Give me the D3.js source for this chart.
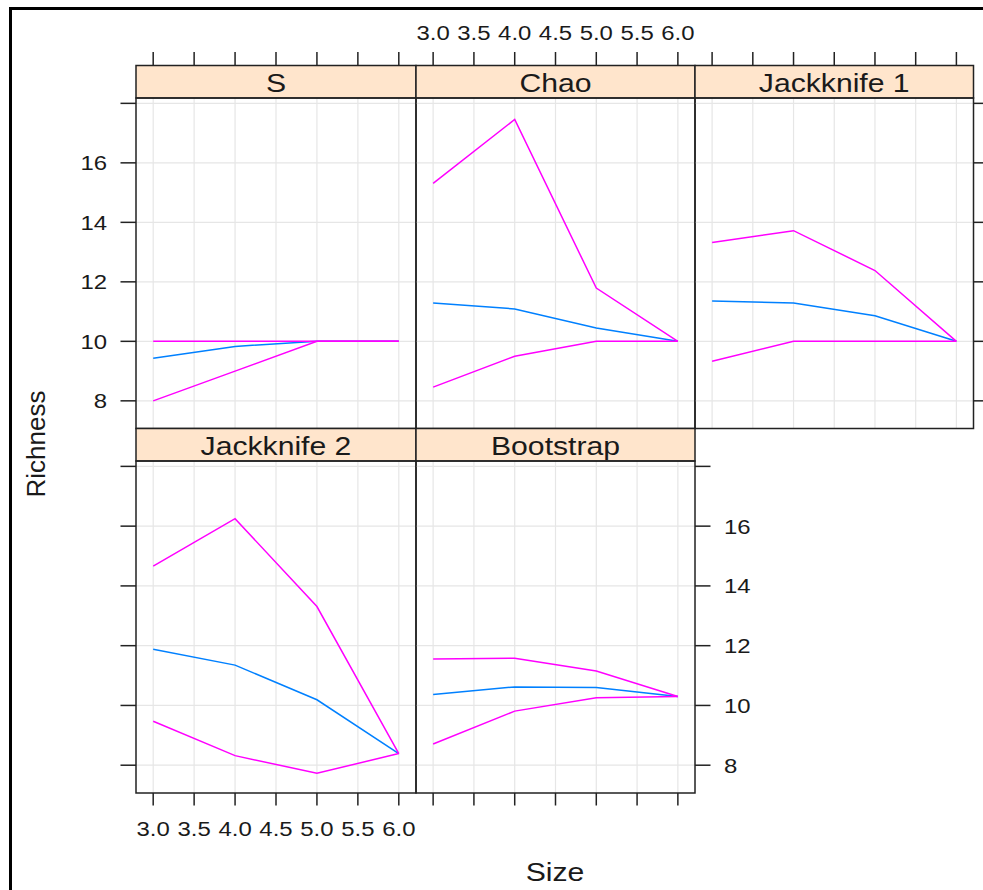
<!DOCTYPE html>
<html>
<head>
<meta charset="utf-8">
<script src="https://cdn.jsdelivr.net/npm/d3@7"></script>
<style>
  html, body { margin: 0; padding: 0; background: #ffffff; }
  svg { display: block; }
  text { font-family: "Liberation Sans", Arial, sans-serif; fill: #1a1a1a; }
</style>
</head>
<body>
<svg id="chart" width="983" height="890"></svg>
<script>
// Sample sizes on the x axis
const sizes = [3, 4, 5, 6];

// Estimator panels, in reading order (top-left to bottom-right)
const estimators = ["S", "Chao", "Jackknife 1", "Jackknife 2", "Bootstrap"];

// Mean richness per estimator
const meanS    = [9.43, 9.83, 10.0, 10.0];
const meanChao = [11.29, 11.09, 10.45, 10.0];
const meanJack1 = [11.36, 11.29, 10.86, 10.0];
const meanJack2 = [11.88, 11.35, 10.19, 8.39];
const meanBoot = [10.37, 10.62, 10.60, 10.30];

// Lower bounds
const lowerS    = [8.0, 9.0, 10.0, 10.0];
const lowerChao = [8.46, 9.50, 10.0, 10.0];
const lowerJack1 = [9.33, 10.0, 10.0, 10.0];
const lowerJack2 = [9.47, 8.32, 7.73, 8.39];
const lowerBoot = [8.71, 9.81, 10.26, 10.30];

// Upper bounds
const upperS    = [10.0, 10.0, 10.0, 10.0];
const upperChao = [15.31, 17.46, 11.79, 10.0];
const upperJack1 = [13.32, 13.72, 12.38, 10.0];
const upperJack2 = [14.66, 16.25, 13.31, 8.39];
const upperBoot = [11.55, 11.58, 11.15, 10.30];

// Axis ticks
const xTicks = [3.0, 3.5, 4.0, 4.5, 5.0, 5.5, 6.0];
const yTicks = [8, 10, 12, 14, 16, 18];
const yLabelled = [8, 10, 12, 14, 16];

const meanVals  = [meanS, meanChao, meanJack1, meanJack2, meanBoot];
const lowerVals = [lowerS, lowerChao, lowerJack1, lowerJack2, lowerBoot];
const upperVals = [upperS, upperChao, upperJack1, upperJack2, upperBoot];

const panels = estimators.map((name, i) => ({
  name,
  col: i % 3,
  row: Math.floor(i / 3),
  mean: sizes.map((s, j) => ({ x: s, y: meanVals[i][j] })),
  lower: sizes.map((s, j) => ({ x: s, y: lowerVals[i][j] })),
  upper: sizes.map((s, j) => ({ x: s, y: upperVals[i][j] }))
}));

// Layout of the trellis
const colEdges = [136, 416, 695, 973.5];
const rowStrip = [[65.5, 98], [428.5, 461]];
const rowBody = [[98, 428.5], [461, 793]];
const xDomain = [2.79, 6.21];
const yDomain = [7.07, 18.18];

const STRETCH_TICK = 1.14;
const STRETCH_TEXT = 1.16;
const BLUE = "#0080ff";
const MAGENTA = "#ff00ff";
const STRIP_BG = "#ffe5cc";
const GRID = "#e6e6e6";

const svg = d3.select("#chart");

// Outer frame
svg.append("path")
  .attr("d", "M10.5,892 L10.5,8.5 L990,8.5")
  .attr("fill", "none")
  .attr("stroke", "#000")
  .attr("stroke-width", 3);

function xScaleFor(col) {
  return d3.scaleLinear().domain(xDomain).range([colEdges[col], colEdges[col + 1]]);
}
function yScaleFor(row) {
  return d3.scaleLinear().domain(yDomain).range([rowBody[row][1], rowBody[row][0]]);
}

const line = (xs, ys) => d3.line().x(d => xs(d.x)).y(d => ys(d.y));

panels.forEach(p => {
  const xs = xScaleFor(p.col);
  const ys = yScaleFor(p.row);
  const x0 = colEdges[p.col], x1 = colEdges[p.col + 1];
  const [st0, st1] = rowStrip[p.row];
  const [b0, b1] = rowBody[p.row];
  const g = svg.append("g");

  // grid
  g.selectAll(".vg").data(xTicks).enter().append("line")
    .attr("x1", d => xs(d)).attr("x2", d => xs(d))
    .attr("y1", b0).attr("y2", b1)
    .attr("stroke", GRID).attr("stroke-width", 1.2);
  g.selectAll(".hg").data(yTicks).enter().append("line")
    .attr("x1", x0).attr("x2", x1)
    .attr("y1", d => ys(d)).attr("y2", d => ys(d))
    .attr("stroke", GRID).attr("stroke-width", 1.2);

  // series
  const clipId = "clip" + p.col + "_" + p.row;
  svg.append("clipPath").attr("id", clipId)
    .append("rect").attr("x", x0).attr("y", b0).attr("width", x1 - x0).attr("height", b1 - b0);
  const lg = g.append("g").attr("clip-path", `url(#${clipId})`);
  lg.append("path").datum(p.mean).attr("d", line(xs, ys))
    .attr("fill", "none").attr("stroke", BLUE).attr("stroke-width", 1.5);
  lg.append("path").datum(p.lower).attr("d", line(xs, ys))
    .attr("fill", "none").attr("stroke", MAGENTA).attr("stroke-width", 1.5);
  lg.append("path").datum(p.upper).attr("d", line(xs, ys))
    .attr("fill", "none").attr("stroke", MAGENTA).attr("stroke-width", 1.5);

  // strip
  g.append("rect").attr("x", x0).attr("y", st0).attr("width", x1 - x0).attr("height", st1 - st0)
    .attr("fill", STRIP_BG).attr("stroke", "#222").attr("stroke-width", 1.5);
  g.append("text")
    .attr("transform", `translate(${(x0 + x1) / 2},${st1 - 6.5}) scale(${STRETCH_TEXT},1)`)
    .attr("text-anchor", "middle")
    .attr("font-size", 26)
    .text(p.name);

  // panel border
  g.append("rect").attr("x", x0).attr("y", b0).attr("width", x1 - x0).attr("height", b1 - b0)
    .attr("fill", "none").attr("stroke", "#222").attr("stroke-width", 1.5);
});

// Axes: ticks around the outside of the trellis
function tickLines(sel, data, f) {
  sel.selectAll(null).data(data).enter().append("line")
    .each(function (d) { const c = f(d); d3.select(this).attr("x1", c[0]).attr("y1", c[1]).attr("x2", c[2]).attr("y2", c[3]); })
    .attr("stroke", "#222").attr("stroke-width", 1.5);
}
function tickLabels(sel, data, f, anchor) {
  sel.selectAll(null).data(data).enter().append("text")
    .attr("transform", d => { const c = f(d); return `translate(${c[0]},${c[1]}) scale(${STRETCH_TICK},1)`; })
    .attr("text-anchor", anchor)
    .attr("font-size", 21)
    .text(d => c0fmt(d));
}
const fmtX = d3.format(".1f");
let c0fmt = fmtX;

const axes = svg.append("g");

// top axis over each top-row panel, labels over the middle one
[0, 1, 2].forEach(col => {
  const xs = xScaleFor(col);
  tickLines(axes, xTicks, d => [xs(d), rowStrip[0][0], xs(d), rowStrip[0][0] - 13.5]);
});
c0fmt = fmtX;
tickLabels(axes, xTicks, d => [xScaleFor(1)(d), 40], "middle");

// bottom axis under each bottom-row panel, labels under the first one
[0, 1].forEach(col => {
  const xs = xScaleFor(col);
  tickLines(axes, xTicks, d => [xs(d), rowBody[1][1], xs(d), rowBody[1][1] + 12.5]);
});
tickLabels(axes, xTicks, d => [xScaleFor(0)(d), 836], "middle");

// left axis: labelled on the top row
[0, 1].forEach(row => {
  const ys = yScaleFor(row);
  tickLines(axes, yTicks, d => [colEdges[0], ys(d), colEdges[0] - 15.5, ys(d)]);
});
c0fmt = d3.format("d");
tickLabels(axes, yLabelled, d => [107, yScaleFor(0)(d) + 7.5], "end");

// right axis: top row at the third panel, bottom row at the second (labelled)
{
  const ys0 = yScaleFor(0);
  tickLines(axes, yTicks, d => [colEdges[3], ys0(d), colEdges[3] + 15, ys0(d)]);
  const ys1 = yScaleFor(1);
  tickLines(axes, yTicks, d => [colEdges[2], ys1(d), colEdges[2] + 15.5, ys1(d)]);
  tickLabels(axes, yLabelled, d => [724, ys1(d) + 7.5], "start");
}

// axis titles
svg.append("text")
  .attr("transform", `translate(555,881) scale(${STRETCH_TEXT},1)`)
  .attr("text-anchor", "middle")
  .attr("font-size", 26)
  .text("Size");
svg.append("text")
  .attr("transform", "translate(45,444) rotate(-90)")
  .attr("text-anchor", "middle")
  .attr("font-size", 26)
  .text("Richness");
</script>
</body>
</html>
